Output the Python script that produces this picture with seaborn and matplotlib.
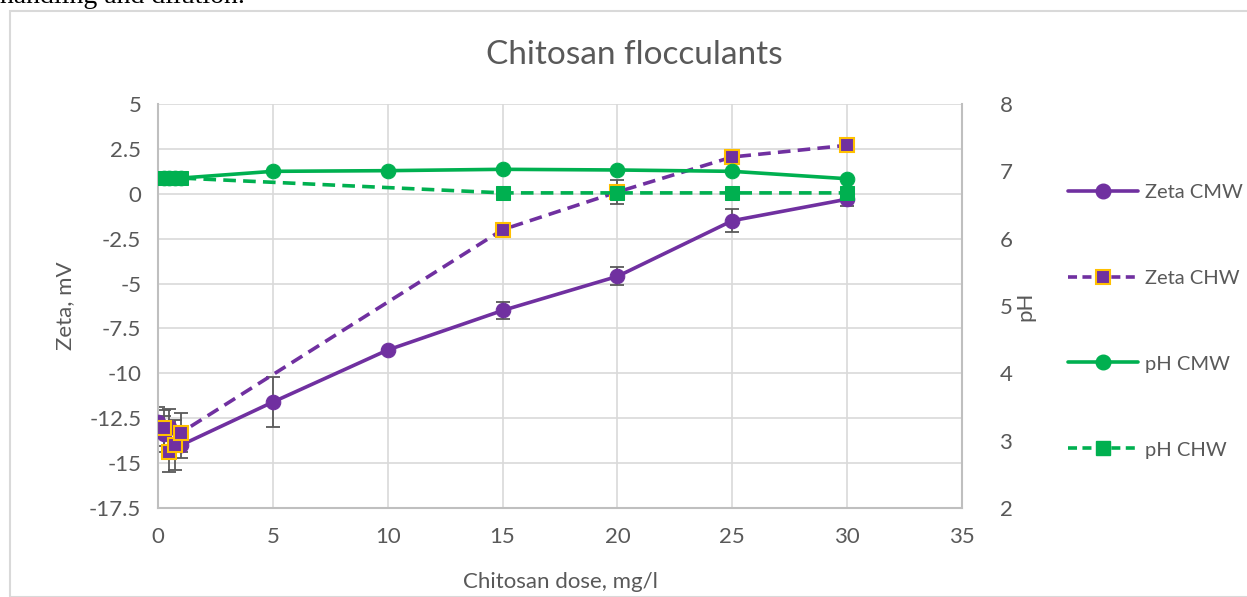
import numpy as np
import pandas as pd
import matplotlib
matplotlib.use("Agg")
import matplotlib.pyplot as plt
import seaborn as sns
from matplotlib.lines import Line2D
from matplotlib.patches import Rectangle

# ---- data ----
zeta_cmw_x = [0, 0.25, 0.5, 1, 5, 10, 15, 20, 25, 30]
zeta_cmw_y = [-12.7, -13.4, -13.0, -14.0, -11.6, -8.7, -6.5, -4.6, -1.5, -0.3]
zeta_cmw_err = [0.8, 1.0, 1.0, 0.7, 1.4, 0.0, 0.5, 0.5, 0.65, 0.4]

zeta_chw_x = [0.25, 0.5, 0.75, 1, 15, 20, 25, 30]
zeta_chw_y = [-13.05, -14.4, -14.0, -13.3, -2.0, 0.1, 2.05, 2.7]
zeta_chw_err = [1.0, 1.1, 1.4, 1.1, 0.3, 0.65, 0.3, 0.2]

ph_cmw_x = [0.25, 0.5, 0.75, 1, 5, 10, 15, 20, 25, 30]
ph_cmw_y = [6.9, 6.9, 6.9, 6.9, 7.0, 7.01, 7.03, 7.02, 7.0, 6.89]

ph_chw_x = [0.25, 0.5, 0.75, 1, 15, 20, 25, 30]
ph_chw_y = [6.9, 6.9, 6.9, 6.9, 6.68, 6.68, 6.68, 6.68]

purple = "#7030A0"
green = "#00B050"
orange = "#FFC000"
gray_txt = "#595959"
grid_c = "#D9D9D9"

sns.set_theme(style="white")
plt.rcParams["font.family"] = ["Lato", "DejaVu Sans"]

fig = plt.figure(figsize=(12.47, 5.97), dpi=100)
ax = fig.add_axes([158/1247, 1-508/597, (962-158)/1247, (508-104)/597])
ax2 = ax.twinx()

lw = 2.6
ms = 10.5

df_zcmw = pd.DataFrame({"x": zeta_cmw_x, "y": zeta_cmw_y})
df_zchw = pd.DataFrame({"x": zeta_chw_x, "y": zeta_chw_y})
df_pcmw = pd.DataFrame({"x": ph_cmw_x, "y": ph_cmw_y})
df_pchw = pd.DataFrame({"x": ph_chw_x, "y": ph_chw_y})

# error bars
ax.errorbar(zeta_cmw_x, zeta_cmw_y, yerr=zeta_cmw_err, fmt="none",
            ecolor=gray_txt, elinewidth=1.3, capsize=5, capthick=1.3, zorder=2)
ax.errorbar(zeta_chw_x, zeta_chw_y, yerr=zeta_chw_err, fmt="none",
            ecolor=gray_txt, elinewidth=1.3, capsize=5, capthick=1.3, zorder=2)

sns.lineplot(data=df_zcmw, x="x", y="y", ax=ax, estimator=None, sort=False,
             color=purple, lw=lw, marker="o", markersize=ms,
             markeredgecolor=purple, zorder=3, legend=False)
sns.lineplot(data=df_zchw, x="x", y="y", ax=ax, estimator=None, sort=False,
             color=purple, lw=lw, marker="s", markersize=ms - 1,
             markeredgecolor=orange, markeredgewidth=1.5,
             dashes=(3.5, 2), zorder=4, legend=False)
sns.lineplot(data=df_pcmw, x="x", y="y", ax=ax2, estimator=None, sort=False,
             color=green, lw=lw, marker="o", markersize=ms,
             markeredgecolor=green, zorder=3, legend=False)
sns.lineplot(data=df_pchw, x="x", y="y", ax=ax2, estimator=None, sort=False,
             color=green, lw=lw, marker="s", markersize=ms - 1,
             markeredgecolor=green, dashes=(3.5, 2), zorder=4, legend=False)

ax.set_xlim(0, 35)
ax.set_ylim(-17.5, 5)
ax2.set_ylim(2, 8)
ax.set_xticks(np.arange(0, 36, 5))
ax.set_yticks(np.arange(-17.5, 5.01, 2.5))
ax.set_yticklabels([("%g" % v) for v in np.arange(-17.5, 5.01, 2.5)])
ax2.set_yticks(np.arange(2, 9, 1))

fs = 16
ax.grid(True, color=grid_c, lw=1.2)
ax.set_axisbelow(True)
for a in (ax, ax2):
    for s in a.spines.values():
        s.set_visible(False)
    a.tick_params(length=0, labelsize=fs, labelcolor=gray_txt)
for a, side in ((ax, "left"), (ax, "bottom"), (ax2, "right")):
    a.spines[side].set_visible(True)
    a.spines[side].set_color("#BFBFBF")
    a.spines[side].set_linewidth(1.5)
ax.tick_params(axis="x", pad=14)
ax.tick_params(axis="y", pad=12)
ax2.tick_params(axis="y", pad=27)

ax.set_xlabel("Chitosan dose, mg/l", fontsize=fs, color=gray_txt, labelpad=18)
ax.set_ylabel("Zeta, mV", fontsize=fs, color=gray_txt, labelpad=10)
ax2.set_ylabel("pH", fontsize=fs, color=gray_txt, labelpad=2, rotation=90)

fig.text(634/1247, 1-55/597, "Chitosan flocculants", ha="center", va="center",
         fontsize=24, color=gray_txt)

handles = [
    Line2D([], [], color=purple, lw=lw, marker="o", markersize=ms, markeredgecolor=purple),
    Line2D([], [], color=purple, lw=lw, marker="s", markersize=ms - 1,
           markeredgecolor=orange, markeredgewidth=1.5, dashes=(2.5, 1.5)),
    Line2D([], [], color=green, lw=lw, marker="o", markersize=ms, markeredgecolor=green),
    Line2D([], [], color=green, lw=lw, marker="s", markersize=ms - 1,
           markeredgecolor=green, dashes=(2.5, 1.5)),
]
labels = ["Zeta CMW", "Zeta CHW", "pH CMW", "pH CHW"]
lfs = 14.5
leg = fig.legend(handles, labels, loc="center left",
                 bbox_to_anchor=(1050/1247, 1-321/597), frameon=False,
                 fontsize=lfs, handlelength=3.48, handletextpad=0.35,
                 labelspacing=3.42, labelcolor=gray_txt)

# document frame & cut-off text from the page
fig.patches.append(Rectangle((10/1247, 0), 1.0, 1-11/597, transform=fig.transFigure,
                             fill=False, edgecolor=grid_c, lw=1.5))
fig.text(0.0, 1-3/597, "handling and dilution.", ha="left", va="baseline",
         fontsize=20, family="Liberation Serif", color="black")

fig.savefig("out.png", dpi=100)
